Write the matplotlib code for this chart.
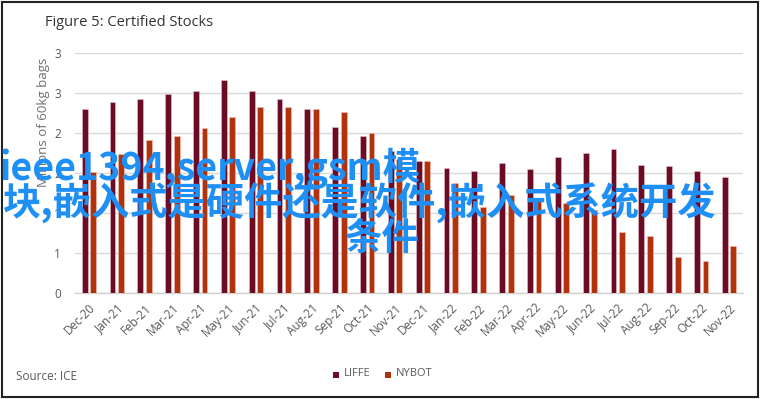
import matplotlib
matplotlib.use("Agg")
import matplotlib.pyplot as plt
from matplotlib.patches import Rectangle
import numpy as np

months = ["Dec-20", "Jan-21", "Feb-21", "Mar-21", "Apr-21", "May-21", "Jun-21", "Jul-21",
          "Aug-21", "Sep-21", "Oct-21", "Nov-21", "Dec-21", "Jan-22", "Feb-22", "Mar-22",
          "Apr-22", "May-22", "Jun-22", "Jul-22", "Aug-22", "Sep-22", "Oct-22", "Nov-22"]
liffe = [2.30, 2.39, 2.43, 2.49, 2.52, 2.66, 2.52, 2.43, 2.30, 2.08, 1.96, 1.77,
         1.65, 1.56, 1.53, 1.62, 1.55, 1.70, 1.75, 1.80, 1.60, 1.59, 1.52, 1.45]
nybot = [1.51, 1.74, 1.91, 1.96, 2.06, 2.20, 2.32, 2.32, 2.30, 2.26, 2.00, 1.67,
         1.65, 1.38, 1.07, 1.22, 1.18, 1.13, 1.04, 0.76, 0.71, 0.45, 0.40, 0.59]
yticks = [0, 0.5, 1.0, 1.5, 2.0, 2.5, 3.0]
ytick_labels = ["0", "1", "1", "2", "2", "3", "3"]

C_LIFFE = "#6B0C24"
C_NYBOT = "#B3320E"
GRAY = "#595959"

W, H = 760, 399
fig = plt.figure(figsize=(W / 100, H / 100), dpi=100)
fig.patch.set_facecolor("white")

left, right, top, bottom = 75, 743, 53, 293
ax = fig.add_axes([left / W, 1 - bottom / H, (right - left) / W, (bottom - top) / H])

x = np.arange(len(months))
bw = 0.21
off = 0.15
ax.bar(x - off, liffe, width=bw, color=C_LIFFE, edgecolor="#e7c3c9", linewidth=0.4, zorder=3, label="LIFFE")
ax.bar(x + off, nybot, width=bw, color=C_NYBOT, edgecolor="#f0c2b4", linewidth=0.4, zorder=3, label="NYBOT")

ax.set_xlim(-0.5, len(months) - 0.5)
ax.set_ylim(0, 3.0)
ax.set_yticks(yticks)
ax.set_yticklabels(ytick_labels)
ax.set_xticks(x)
ax.set_xticklabels(months, rotation=45, ha="right", rotation_mode="anchor")
ax.grid(axis="y", color="#d9d9d9", linewidth=1.0, zorder=0)
ax.set_axisbelow(True)
for s in ["top", "right", "left"]:
    ax.spines[s].set_visible(False)
ax.spines["bottom"].set_color("#d0d0d0")
ax.spines["bottom"].set_linewidth(1.0)
ax.tick_params(axis="both", length=0, colors=GRAY, labelsize=8.5)
ax.tick_params(axis="y", pad=10)
ax.tick_params(axis="x", pad=6)
for t in ax.get_xticklabels() + ax.get_yticklabels():
    t.set_fontfamily("Open Sans")

fig.text(44 / W, 1 - 122 / H, "Millions of 60kg bags", rotation=90, ha="center", va="center",
         fontsize=9.5, color="#707070", family="Open Sans")
fig.text(45 / W, 1 - 22 / H, "Figure 5: Certified Stocks", ha="left", va="center",
         fontsize=10.5, color="#333333", family="Open Sans")
fig.text(16 / W, 1 - 376 / H, "Source: ICE", ha="left", va="center",
         fontsize=8.5, color=GRAY, family="Open Sans")

# legend
fig.patches.append(Rectangle((333 / W, 1 - 378 / H), 6 / W, 6 / H, transform=fig.transFigure,
                             facecolor=C_LIFFE, edgecolor="none"))
fig.text(344 / W, 1 - 374 / H, "LIFFE", ha="left", va="center", fontsize=8, color=GRAY, family="Open Sans")
fig.patches.append(Rectangle((385 / W, 1 - 378 / H), 6 / W, 6 / H, transform=fig.transFigure,
                             facecolor=C_NYBOT, edgecolor="none"))
fig.text(396 / W, 1 - 374 / H, "NYBOT", ha="left", va="center", fontsize=8, color=GRAY, family="Open Sans")

# outer frame
fig.patches.append(Rectangle((2 / W, 2 / H), (W - 4) / W, (H - 4) / H, transform=fig.transFigure,
                             facecolor="none", edgecolor="#222222", linewidth=1.5))

# overlay text
wm_color = "#1E8FF5"
wm_font = ["Noto Sans CJK SC", "DejaVu Sans"]
fig.text(0 / W, 1 - 180 / H, "ieee1394,server,gsm模", ha="left", va="baseline",
         fontsize=27, color=wm_color, family=wm_font, fontweight="bold")
fig.text(2 / W, 1 - 216 / H, "块,嵌入式是硬件还是软件,嵌入式系统开发", ha="left", va="baseline",
         fontsize=27.5, color=wm_color, family=wm_font, fontweight="bold")
fig.text(345 / W, 1 - 250 / H, "条件", ha="left", va="baseline",
         fontsize=27, color=wm_color, family=wm_font, fontweight="bold")

fig.savefig("out.png", dpi=100)
